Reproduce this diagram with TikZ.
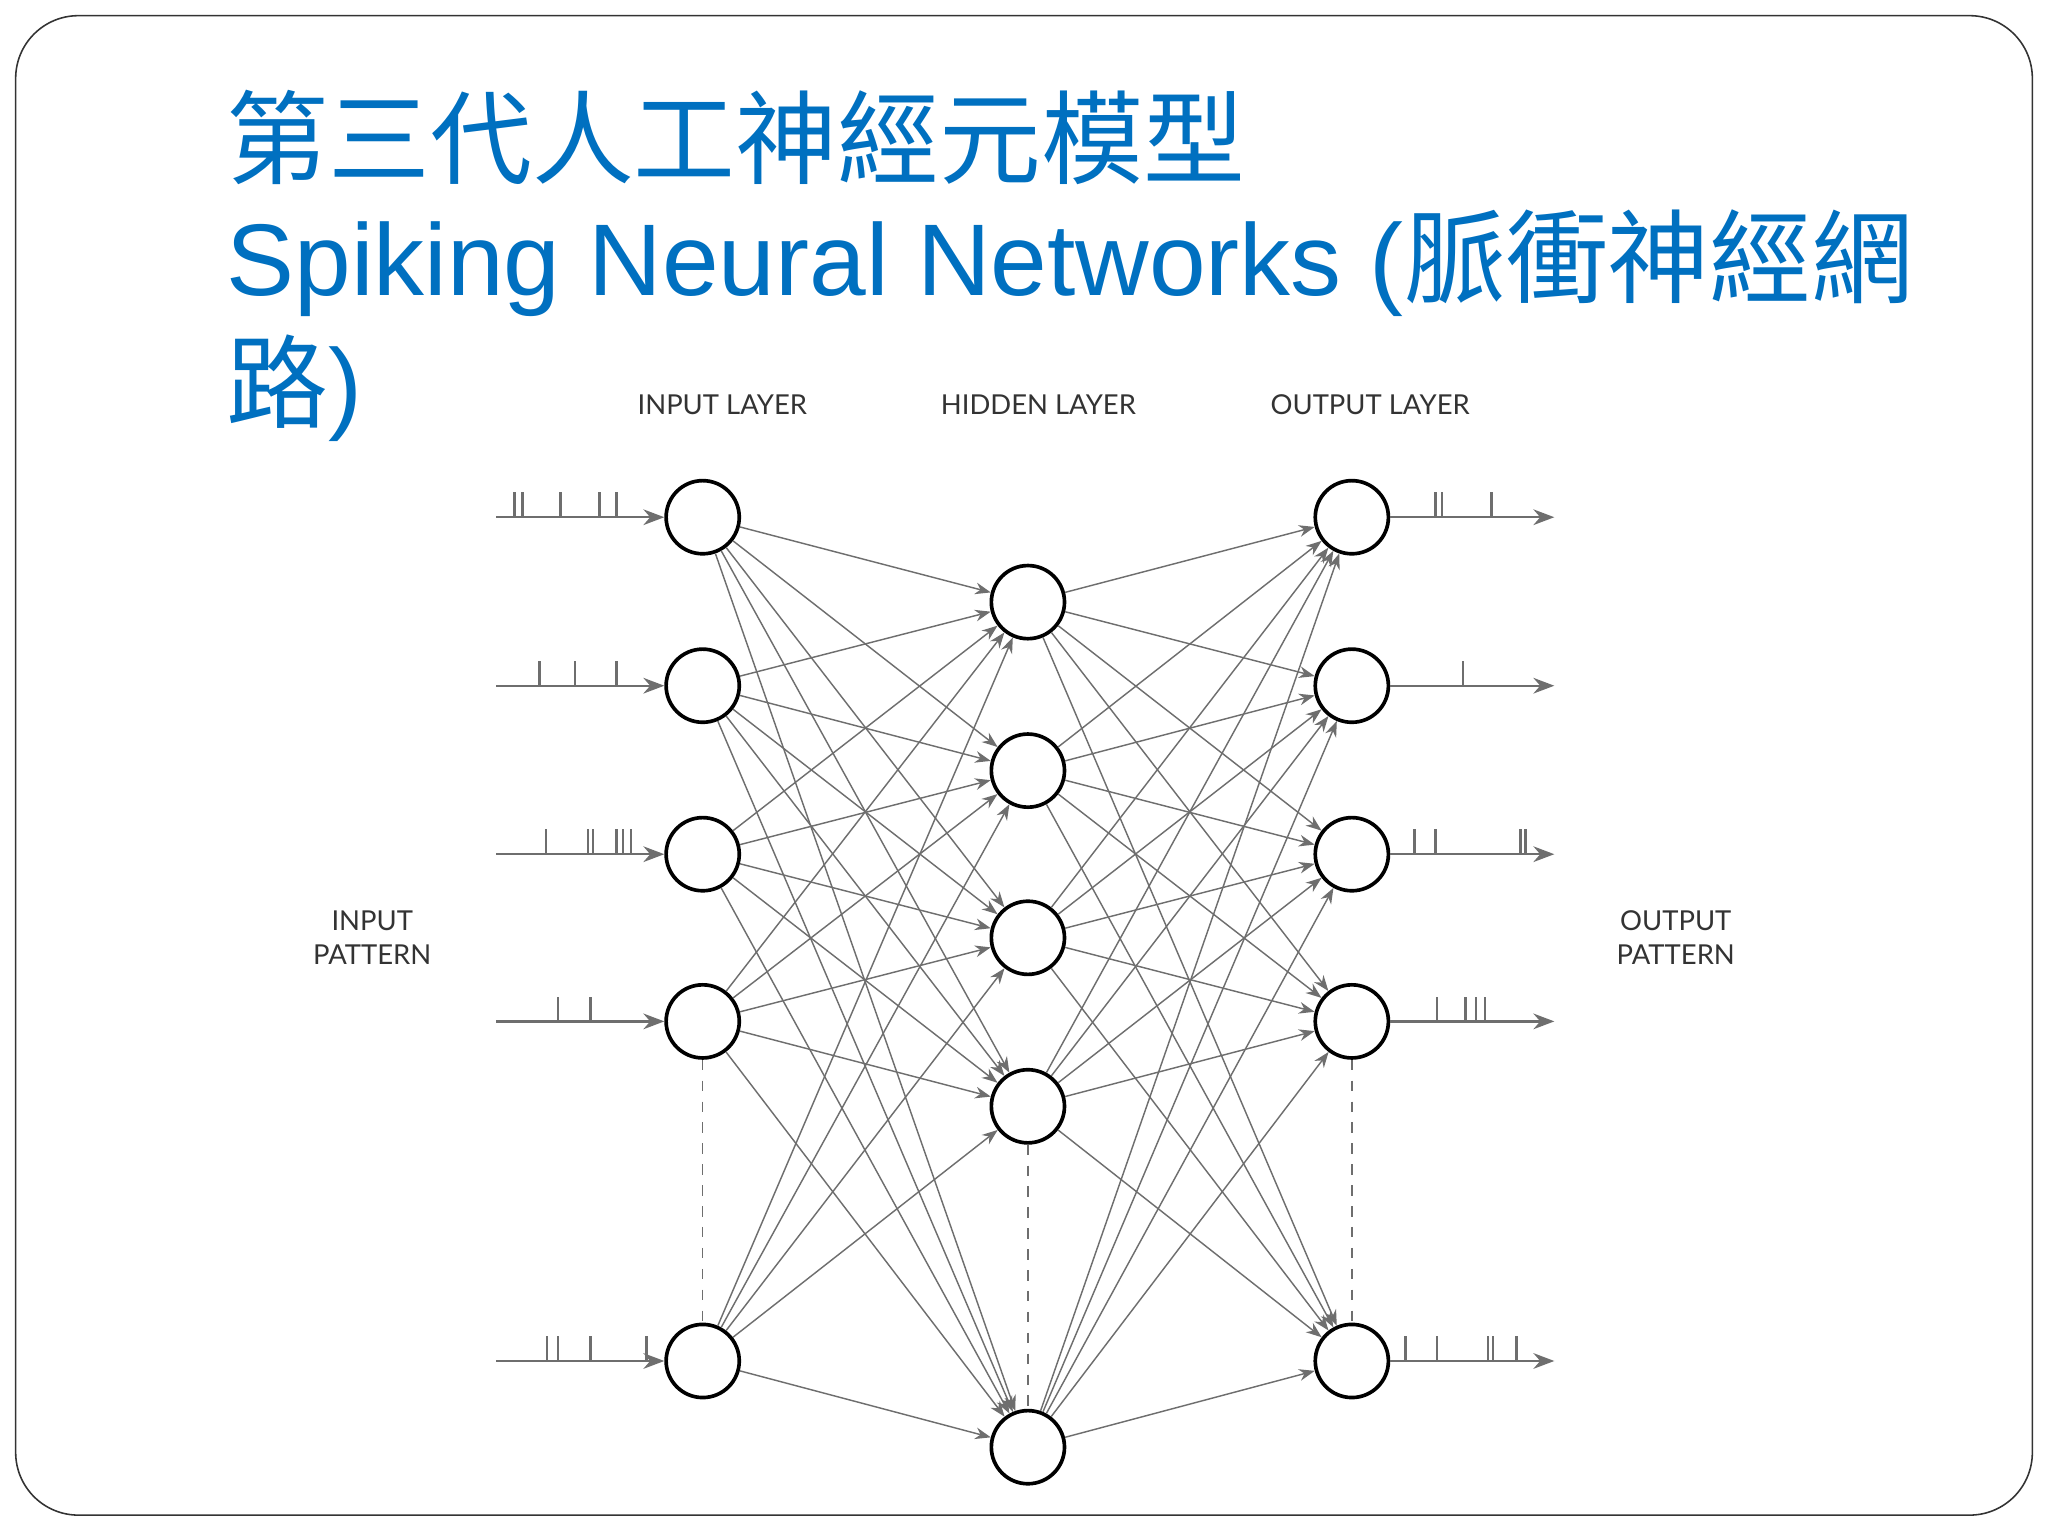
\documentclass[tikz,border=0pt]{standalone}
\usepackage{fontspec}
\setmainfont{Liberation Sans}
\newfontfamily\cjk{Noto Sans CJK TC}
\newfontfamily\lab{Lato}
\usetikzlibrary{arrows.meta}
\definecolor{tblue}{RGB}{0,112,192}
\definecolor{eg}{RGB}{110,110,110}
\begin{document}
\begin{tikzpicture}[x=0.5pt,y=-0.5pt,
  neuron/.style={circle,draw=black,line width=1.4pt,minimum size=28pt,inner sep=0pt,fill=white},
  conn/.style={draw=eg,line width=0.55pt,-{Stealth[length=6pt,width=4.5pt]}},
  io/.style={draw=eg,line width=0.9pt,-{Stealth[length=8pt,width=6pt]}},
  spk/.style={draw=eg,line width=0.9pt},
  dashl/.style={draw=eg,line width=0.6pt,dash pattern=on 4pt off 4pt},
  lbl/.style={font=\lab\fontsize{10.5}{13}\selectfont,text=black!80,align=center},
  ttl/.style={anchor=base west,inner sep=0pt,text=tblue,font=\fontsize{39}{46}\selectfont}]
\useasboundingbox (0,0) rectangle (1568,1176);
\fill[white] (0,0) rectangle (1568,1176);
\draw[black!80,line width=0.6pt,rounded corners=24pt] (12,12) rectangle (1556,1160);
\node[ttl] (t1) at (173,135) {\cjk 第三代人工神經元模型};
\node[ttl] (t2) at (173,226) {Spiking Neural Networks ({\cjk 脈衝神經網}};
\node[ttl] (t3) at (173,322) {{\cjk 路})};
\node[lbl] (l1) at (553,310) {INPUT LAYER};
\node[lbl] (l2) at (795,310) {HIDDEN LAYER};
\node[lbl] (l3) at (1049,310) {OUTPUT LAYER};
\node[lbl] (l4) at (285,718) {INPUT\\PATTERN};
\node[lbl] (l5) at (1283,718) {OUTPUT\\PATTERN};
\foreach \i/\y in {1/396,2/525,3/654,4/782,5/1042}{
  \node[neuron] (i\i) at (538,\y) {};
  \node[neuron] (o\i) at (1035,\y) {};
  \coordinate (is\i) at (380,\y);
  \coordinate (oe\i) at (1190,\y);
}
\foreach \i/\y in {1/461,2/590,3/718,4/847,5/1108}{
  \node[neuron] (h\i) at (787,\y) {};
}
\foreach \a in {1,...,5}{\foreach \b in {1,...,5}{
  \draw[conn] (i\a) -- (h\b);
  \draw[conn] (h\a) -- (o\b);
}}
\draw[dashl] (i4) -- (i5);
\draw[dashl] (h4) -- (h5);
\draw[dashl] (o4) -- (o5);
\foreach \i in {1,...,5}{
  \draw[io] (is\i) -- (i\i);
  \draw[io] (o\i) -- (oe\i);
}
\foreach \x in {394,400,429,459,472}{\draw[spk] (\x,396) -- ++(0,-19);}
\foreach \x in {413,440,472}{\draw[spk] (\x,525) -- ++(0,-19);}
\foreach \x in {418,450,454,472,477,483}{\draw[spk] (\x,654) -- ++(0,-19);}
\foreach \x in {427,452}{\draw[spk] (\x,782) -- ++(0,-19);}
\foreach \x in {419,427,452,495}{\draw[spk] (\x,1042) -- ++(0,-19);}
\foreach \x in {1099,1104,1142}{\draw[spk] (\x,396) -- ++(0,-19);}
\foreach \x in {1120}{\draw[spk] (\x,525) -- ++(0,-19);}
\foreach \x in {1083,1099,1164,1168}{\draw[spk] (\x,654) -- ++(0,-19);}
\foreach \x in {1100,1122,1130,1137}{\draw[spk] (\x,782) -- ++(0,-19);}
\foreach \x in {1076,1100,1139,1143,1161}{\draw[spk] (\x,1042) -- ++(0,-19);}
\end{tikzpicture}
\end{document}
